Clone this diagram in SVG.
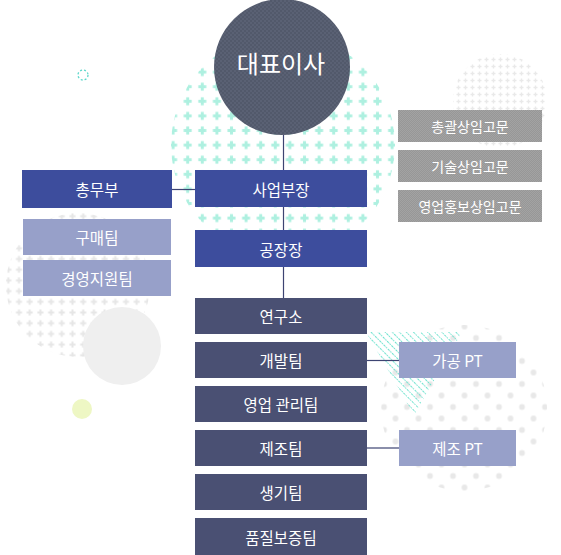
<svg xmlns="http://www.w3.org/2000/svg" width="561" height="555" viewBox="0 0 561 555">
<style>
text{font-family:"Noto Sans CJK KR","Noto Sans",sans-serif;fill:#ffffff;text-anchor:middle;dominant-baseline:central}
.t15{font-size:15.5px}
.t14{font-size:14px}
.exec{fill:#3d4d9d}
.sub{fill:#97a0c9}
.team{fill:#4a5073}
.adv{fill:url(#greyTex)}
.conn{stroke:#3d4472;stroke-width:1.2;fill:none}
</style>
<defs>
<pattern id="tealCross" patternUnits="userSpaceOnUse" x="180.4" y="79.4" width="14.6" height="14.6">
<rect x="3.3" y="5.8" width="8" height="3" fill="#aef0e0"/>
<rect x="5.8" y="3.3" width="3" height="8" fill="#aef0e0"/>
</pattern>
<pattern id="greyCross" patternUnits="userSpaceOnUse" x="2.95" y="253.65" width="10.7" height="10.7">
<rect x="2.35" y="4.35" width="6" height="2" fill="#e6e6e6"/>
<rect x="4.35" y="2.35" width="2" height="6" fill="#e6e6e6"/>
</pattern>
<pattern id="smallCross" patternUnits="userSpaceOnUse" x="0" y="0" width="7" height="7">
<rect x="1.5" y="2.8" width="4" height="1.4" fill="#e9e9e9"/>
<rect x="2.8" y="1.5" width="1.4" height="4" fill="#e9e9e9"/>
</pattern>
<pattern id="dots" patternUnits="userSpaceOnUse" x="372.5" y="395.5" width="23" height="23">
<circle cx="11.5" cy="11.5" r="2.9" fill="#e8e8e8"/>
<circle cx="0" cy="0" r="2.9" fill="#e8e8e8"/>
<circle cx="23" cy="0" r="2.9" fill="#e8e8e8"/>
<circle cx="0" cy="23" r="2.9" fill="#e8e8e8"/>
<circle cx="23" cy="23" r="2.9" fill="#e8e8e8"/>
</pattern>
<pattern id="hatch" patternUnits="userSpaceOnUse" width="6" height="5" patternTransform="rotate(45)">
<line x1="0" y1="2.5" x2="6" y2="2.5" stroke="#6fe3cf" stroke-width="1" stroke-dasharray="1.5 1"/>
</pattern>
<pattern id="darkTex" patternUnits="userSpaceOnUse" width="4" height="4">
<rect width="4" height="4" fill="#52596b"/>
<rect width="2" height="2" fill="#5a6174"/>
<rect x="2" y="2" width="2" height="2" fill="#5a6174"/>
</pattern>
<pattern id="greyTex" patternUnits="userSpaceOnUse" width="2" height="2">
<rect width="2" height="2" fill="#979797"/>
<rect width="1" height="1" fill="#a3a3a3"/>
<rect x="1" y="1" width="1" height="1" fill="#a3a3a3"/>
</pattern>
</defs>

<g id="background">
<circle cx="283" cy="145" r="112" fill="url(#tealCross)"/>
<circle cx="78" cy="285" r="72" fill="url(#greyCross)"/>
<circle cx="500" cy="101" r="47" fill="url(#smallCross)"/>
<circle cx="464" cy="408" r="83" fill="url(#dots)"/>
<polygon points="366,332 462,332 414,415" fill="url(#hatch)"/>
<circle cx="122" cy="346" r="39" fill="#efefef"/>
<circle cx="82" cy="409" r="10" fill="#eef7c4"/>
<circle cx="83" cy="75" r="5" fill="none" stroke="#5fd8cc" stroke-width="1.3" stroke-dasharray="2 2"/>
</g>

<g id="connectors">
<line class="conn" x1="283.5" y1="134" x2="283.5" y2="170"/>
<line class="conn" x1="283.5" y1="207" x2="283.5" y2="230"/>
<line class="conn" x1="283.5" y1="267" x2="283.5" y2="298"/>
<line class="conn" x1="172" y1="189.5" x2="195" y2="189.5"/>
<line class="conn" x1="367" y1="360.5" x2="399" y2="360.5"/>
<line class="conn" x1="367" y1="448" x2="399" y2="448"/>
</g>

<g id="ceo">
<circle cx="282" cy="67" r="68" fill="url(#darkTex)"/>
<text x="281" y="62" style="font-size:24px">대표이사</text>
</g>

<g id="node-bizhead"><rect class="exec" x="195" y="170" width="172" height="37"/><text class="t15" x="281" y="188.5">사업부장</text></g>
<g id="node-factory"><rect class="exec" x="195" y="230" width="172" height="37"/><text class="t15" x="281" y="248.5">공장장</text></g>
<g id="node-general"><rect class="exec" x="22" y="170" width="150" height="38"/><text class="t15" x="97" y="189">총무부</text></g>
<g id="node-purchase"><rect class="sub" x="23" y="219" width="148" height="36"/><text class="t15" x="97" y="237">구매팀</text></g>
<g id="node-mgmt"><rect class="sub" x="23" y="260" width="148" height="36"/><text class="t15" x="97" y="278">경영지원팀</text></g>

<g id="node-adv1"><rect class="adv" x="398" y="110" width="144" height="32"/><text class="t14" x="470" y="126">총괄상임고문</text></g>
<g id="node-adv2"><rect class="adv" x="398" y="150" width="144" height="32"/><text class="t14" x="470" y="166">기술상임고문</text></g>
<g id="node-adv3"><rect class="adv" x="398" y="190" width="144" height="32"/><text class="t14" x="470" y="206">영업홍보상임고문</text></g>

<g id="node-lab"><rect class="team" x="195" y="298" width="172" height="36"/><text class="t15" x="281" y="316">연구소</text></g>
<g id="node-dev"><rect class="team" x="195" y="342" width="172" height="36"/><text class="t15" x="281" y="360">개발팀</text></g>
<g id="node-sales"><rect class="team" x="195" y="386" width="172" height="36"/><text class="t15" x="281" y="404">영업 관리팀</text></g>
<g id="node-mfg"><rect class="team" x="195" y="430" width="172" height="36"/><text class="t15" x="281" y="448">제조팀</text></g>
<g id="node-prod"><rect class="team" x="195" y="474" width="172" height="36"/><text class="t15" x="281" y="492">생기팀</text></g>
<g id="node-qa"><rect class="team" x="195" y="518" width="172" height="37"/><text class="t15" x="281" y="536.5">품질보증팀</text></g>

<g id="node-pt1"><rect class="sub" x="399" y="342" width="117" height="36"/><text class="t15" x="457.5" y="360">가공 PT</text></g>
<g id="node-pt2"><rect class="sub" x="399" y="430" width="117" height="36"/><text class="t15" x="457.5" y="448">제조 PT</text></g>
</svg>
